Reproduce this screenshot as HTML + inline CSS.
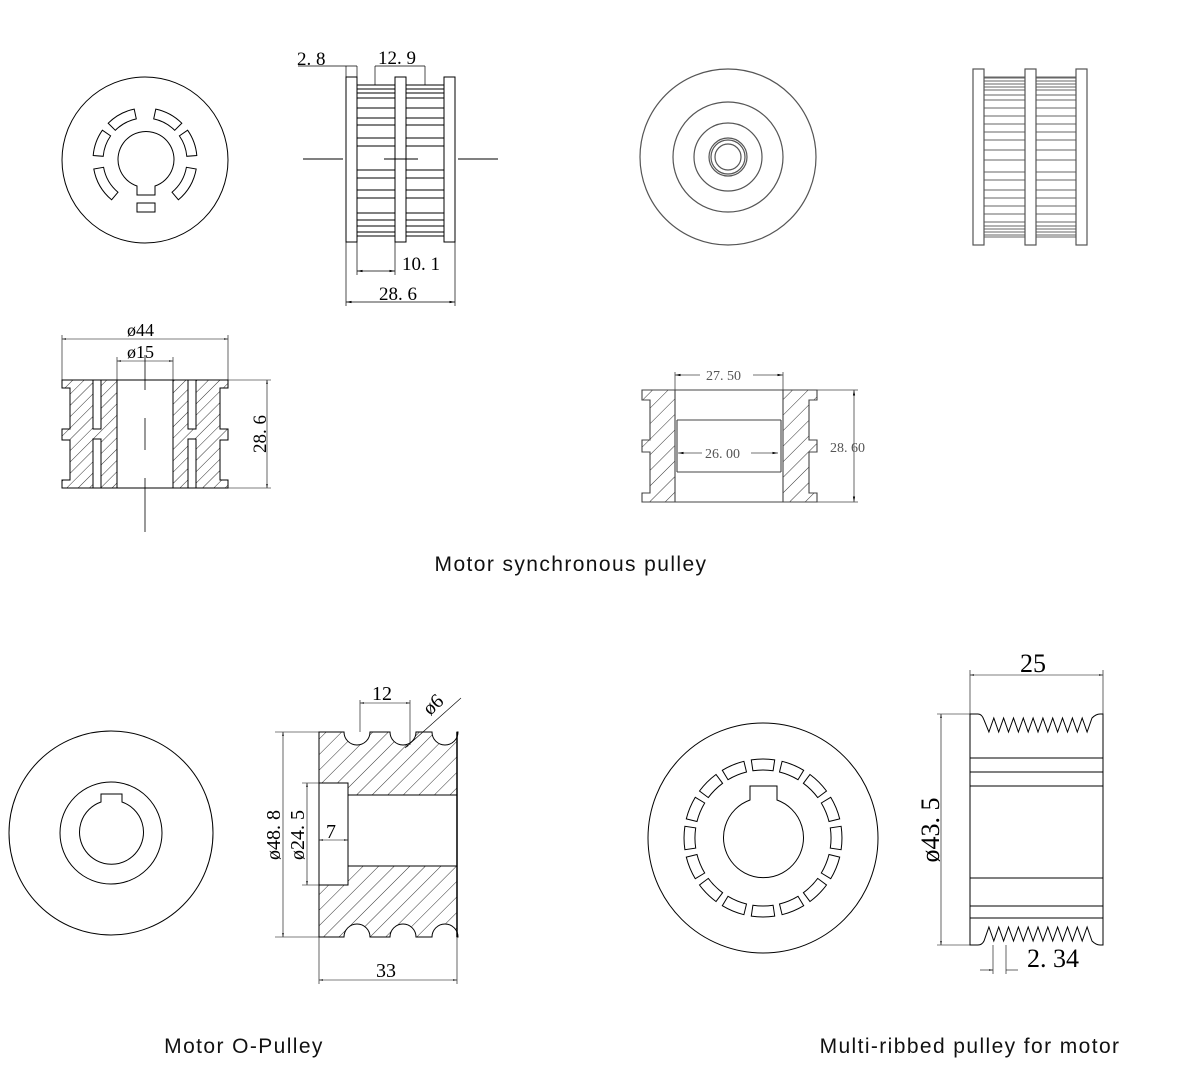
<!DOCTYPE html>
<html><head><meta charset="utf-8"><style>
html,body{margin:0;padding:0;background:#fff}
svg{display:block}
.d{font-family:"Liberation Serif","Noto Serif CJK SC",serif;fill:#000}
.t{font-family:"Liberation Sans","DejaVu Sans",sans-serif;font-size:21px;letter-spacing:1.4px;fill:#111;text-anchor:middle}
</style></head><body>
<svg id="s" width="1180" height="1090" viewBox="0 0 1180 1090" xmlns="http://www.w3.org/2000/svg">
<defs>
<pattern id="h" patternUnits="userSpaceOnUse" width="8" height="8" patternTransform="rotate(45)">
<rect width="8" height="8" fill="#fff"/><line x1="0" y1="0" x2="0" y2="8" stroke="#333" stroke-width="1"/>
</pattern>
<pattern id="h2" patternUnits="userSpaceOnUse" width="11" height="11" patternTransform="rotate(45)">
<rect width="11" height="11" fill="#fff"/><line x1="0" y1="0" x2="0" y2="11" stroke="#333" stroke-width="1"/>
</pattern>
<marker id="a" viewBox="0 0 10 10" refX="10" refY="5" markerWidth="7" markerHeight="7" orient="auto-start-reverse"><path d="M0,3 L10,5 L0,7z" fill="#000"/></marker>
</defs>
<g fill="none" stroke="#000" stroke-width="1">
<circle cx="145" cy="160" r="83"/>
<path d="M137,186 A28,28 0 1 1 155,186 L155,195 L137,195 Z"/>
<rect x="137" y="203" width="18" height="9"/>
<g id="slots1"></g>

<g id="tooth1"></g>
<rect x="346" y="77" width="11" height="165" fill="#fff"/>
<rect x="395" y="77" width="11" height="165" fill="#fff"/>
<rect x="444" y="77" width="11" height="165" fill="#fff"/>
<line x1="303" y1="159" x2="343" y2="159"/><line x1="384" y1="159" x2="418" y2="159"/><line x1="458" y1="159" x2="498" y2="159"/>
<line x1="298" y1="66" x2="357" y2="66" stroke-width="0.8"/>
<line x1="346" y1="66" x2="346" y2="77" stroke-width="0.7"/><line x1="357" y1="66" x2="357" y2="77" stroke-width="0.7"/>
<line x1="375" y1="66" x2="425" y2="66" stroke-width="0.8"/>
<line x1="375" y1="66" x2="375" y2="85" stroke-width="0.7"/><line x1="425" y1="66" x2="425" y2="85" stroke-width="0.7"/>
<line x1="346" y1="242" x2="346" y2="306" stroke-width="0.7"/><line x1="455" y1="242" x2="455" y2="306" stroke-width="0.7"/>
<line x1="357" y1="242" x2="357" y2="275" stroke-width="0.7"/><line x1="395" y1="242" x2="395" y2="275" stroke-width="0.7"/>
<line x1="357" y1="271" x2="395" y2="271" marker-start="url(#a)" marker-end="url(#a)" stroke-width="0.8"/>
<line x1="346" y1="302" x2="455" y2="302" marker-start="url(#a)" marker-end="url(#a)" stroke-width="0.8"/>

<path d="M62,380 L117,380 L117,488 L62,488 L62,480 L70,480 L70,440 L62,440 L62,429 L70,429 L70,388 L62,388 Z" fill="url(#h)"/>
<path d="M228,380 L173,380 L173,488 L228,488 L228,480 L220,480 L220,440 L228,440 L228,429 L220,429 L220,388 L228,388 Z" fill="url(#h)"/>
<line x1="117" y1="380" x2="173" y2="380"/><line x1="117" y1="488" x2="173" y2="488"/>
<rect x="93" y="380" width="8" height="49" fill="#fff"/><rect x="93" y="439" width="8" height="49" fill="#fff"/>
<rect x="188" y="380" width="8" height="49" fill="#fff"/><rect x="188" y="439" width="8" height="49" fill="#fff"/>
<line x1="145" y1="355" x2="145" y2="390" stroke-width="0.8"/><line x1="145" y1="418" x2="145" y2="450" stroke-width="0.8"/><line x1="145" y1="478" x2="145" y2="532" stroke-width="0.8"/>
<line x1="62" y1="380" x2="62" y2="335" stroke-width="0.6"/><line x1="228" y1="380" x2="228" y2="335" stroke-width="0.6"/>
<line x1="62" y1="339" x2="228" y2="339" marker-start="url(#a)" marker-end="url(#a)" stroke-width="0.6"/>
<line x1="117" y1="380" x2="117" y2="357" stroke-width="0.6"/><line x1="173" y1="380" x2="173" y2="357" stroke-width="0.6"/>
<line x1="117" y1="361" x2="173" y2="361" marker-start="url(#a)" marker-end="url(#a)" stroke-width="0.6"/>
<line x1="228" y1="380" x2="271" y2="380" stroke-width="0.6"/><line x1="228" y1="488" x2="271" y2="488" stroke-width="0.6"/>
<line x1="267" y1="380" x2="267" y2="488" marker-start="url(#a)" marker-end="url(#a)" stroke-width="0.6"/>

<g stroke="#555" stroke-width="1.2">
<circle cx="728" cy="157" r="88"/><circle cx="728" cy="157" r="55"/><circle cx="728" cy="157" r="34"/>
<circle cx="728" cy="157" r="19"/><circle cx="728" cy="157" r="17"/><circle cx="728" cy="157" r="13"/>
</g>
<g id="tooth2" stroke="#666"></g>
<g stroke="#555" stroke-width="1.2">
<rect x="973" y="69" width="11" height="176" fill="#fff"/>
<rect x="1025" y="69" width="11" height="176" fill="#fff"/>
<rect x="1076" y="69" width="11" height="176" fill="#fff"/>
</g>
<g stroke="#444" stroke-width="1.1">
<path d="M642,390 L675,390 L675,502 L642,502 L642,493 L650,493 L650,452 L642,452 L642,440 L650,440 L650,400 L642,400 Z" fill="url(#h2)"/>
<path d="M817,390 L783,390 L783,502 L817,502 L817,493 L809,493 L809,452 L817,452 L817,440 L809,440 L809,400 L817,400 Z" fill="url(#h2)"/>
<line x1="675" y1="390" x2="783" y2="390"/><line x1="675" y1="502" x2="783" y2="502"/>
<line x1="677" y1="420" x2="781" y2="420"/><line x1="677" y1="472" x2="781" y2="472"/>
<line x1="677" y1="420" x2="677" y2="472"/><line x1="781" y1="420" x2="781" y2="472"/>
<line x1="675" y1="372" x2="675" y2="390" stroke-width="0.8"/><line x1="783" y1="372" x2="783" y2="390" stroke-width="0.8"/>
<line x1="675" y1="375" x2="700" y2="375" marker-start="url(#a)" stroke-width="0.8"/><line x1="753" y1="375" x2="783" y2="375" marker-end="url(#a)" stroke-width="0.8"/>
<line x1="678" y1="453" x2="702" y2="453" marker-start="url(#a)" stroke-width="0.8"/><line x1="751" y1="453" x2="778" y2="453" marker-end="url(#a)" stroke-width="0.8"/>
<line x1="817" y1="390" x2="858" y2="390" stroke-width="0.8"/><line x1="817" y1="502" x2="858" y2="502" stroke-width="0.8"/>
<line x1="854" y1="390" x2="854" y2="502" marker-start="url(#a)" marker-end="url(#a)" stroke-width="0.8"/>
</g>

<circle cx="111" cy="833" r="102"/><circle cx="111" cy="833" r="51"/>
<path d="M101,802 A32,32 0 1 0 122,802 L122,794 L101,794 Z"/>
<path d="M319,732 L344,732 A13,13 0 0 0 370,732 L390,732 A13,13 0 0 0 416,732 L432,732 A13,13 0 0 0 458,732 L457,732 L457,795 L348,795 L348,783 L319,783 Z" fill="url(#h2)"/>
<path d="M319,937 L344,937 A13,13 0 0 1 370,937 L390,937 A13,13 0 0 1 416,937 L432,937 A13,13 0 0 1 458,937 L457,937 L457,866 L348,866 L348,885 L319,885 Z" fill="url(#h2)"/>
<line x1="457" y1="732" x2="457" y2="937" stroke-width="1.5"/>
<rect x="319" y="783" width="29" height="102" fill="#fff"/>
<line x1="348" y1="795" x2="457" y2="795"/><line x1="348" y1="866" x2="457" y2="866"/>
<line x1="360" y1="700" x2="360" y2="732" stroke-width="0.6"/><line x1="410" y1="700" x2="410" y2="745" stroke-width="0.6"/>
<line x1="360" y1="703" x2="410" y2="703" marker-start="url(#a)" marker-end="url(#a)" stroke-width="0.6"/>
<line x1="405" y1="748" x2="461" y2="698" stroke-width="0.6" marker-start="url(#a)"/>
<line x1="275" y1="732" x2="319" y2="732" stroke-width="0.6"/><line x1="275" y1="937" x2="319" y2="937" stroke-width="0.6"/>
<line x1="283" y1="732" x2="283" y2="937" marker-start="url(#a)" marker-end="url(#a)" stroke-width="0.6"/>
<line x1="302" y1="783" x2="319" y2="783" stroke-width="0.6"/><line x1="302" y1="885" x2="319" y2="885" stroke-width="0.6"/>
<line x1="307" y1="783" x2="307" y2="885" marker-start="url(#a)" marker-end="url(#a)" stroke-width="0.6"/>
<line x1="319" y1="840" x2="348" y2="840" marker-start="url(#a)" marker-end="url(#a)" stroke-width="0.6"/>
<line x1="319" y1="937" x2="319" y2="984" stroke-width="0.6"/><line x1="457" y1="937" x2="457" y2="984" stroke-width="0.6"/>
<line x1="319" y1="980" x2="457" y2="980" marker-start="url(#a)" marker-end="url(#a)" stroke-width="0.6"/>

<circle cx="763" cy="838" r="115"/>
<path d="M750,800 A40,40 0 1 0 777,800 L777,786 L750,786 Z"/>
<g id="slots2"></g>
<path id="rib" d=""/>
<line x1="970" y1="758" x2="1103" y2="758"/><line x1="970" y1="772" x2="1103" y2="772"/><line x1="970" y1="786" x2="1103" y2="786"/>
<line x1="970" y1="878" x2="1103" y2="878"/><line x1="970" y1="906" x2="1103" y2="906"/><line x1="970" y1="918" x2="1103" y2="918"/>
<line x1="970" y1="786" x2="970" y2="878" stroke-dasharray="3,2"/><line x1="1103" y1="786" x2="1103" y2="878" stroke-dasharray="3,2"/>
<line x1="970" y1="714" x2="970" y2="670" stroke-width="0.6"/><line x1="1103" y1="714" x2="1103" y2="670" stroke-width="0.6"/>
<line x1="970" y1="675" x2="1103" y2="675" marker-start="url(#a)" marker-end="url(#a)" stroke-width="0.6"/>
<line x1="937" y1="714" x2="970" y2="714" stroke-width="0.6"/><line x1="937" y1="945" x2="970" y2="945" stroke-width="0.6"/>
<line x1="941" y1="714" x2="941" y2="945" marker-start="url(#a)" marker-end="url(#a)" stroke-width="0.6"/>
<line x1="993" y1="945" x2="993" y2="974" stroke-width="0.6"/><line x1="1006" y1="945" x2="1006" y2="974" stroke-width="0.6"/>
<line x1="980" y1="970" x2="993" y2="970" marker-end="url(#a)" stroke-width="0.6"/><line x1="1006" y1="970" x2="1018" y2="970" stroke-width="0.6"/>
</g>
<g class="d">
<text x="297" y="65" font-size="19">2. 8</text>
<text x="378" y="64" font-size="19">12. 9</text>
<text x="402" y="270" font-size="19">10. 1</text>
<text x="379" y="300" font-size="19">28. 6</text>
<text x="127" y="336" font-size="18">ø44</text>
<text x="127" y="358" font-size="18">ø15</text>
<text transform="translate(266,434) rotate(-90)" font-size="19" text-anchor="middle">28. 6</text>
<text x="706" y="380" font-size="14" fill="#555">27. 50</text>
<text x="705" y="458" font-size="14" fill="#555">26. 00</text>
<text x="830" y="452" font-size="14" fill="#555">28. 60</text>
<text x="372" y="700" font-size="20">12</text>
<text transform="translate(430,716) rotate(-42)" font-size="20">ø6</text>
<text transform="translate(280,835) rotate(-90)" font-size="20" text-anchor="middle">ø48. 8</text>
<text transform="translate(304,835) rotate(-90)" font-size="20" text-anchor="middle">ø24. 5</text>
<text x="326" y="838" font-size="20">7</text>
<text x="376" y="977" font-size="20">33</text>
<text x="1020" y="672" font-size="26">25</text>
<text transform="translate(939,830) rotate(-90)" font-size="26" text-anchor="middle">ø43. 5</text>
<text x="1027" y="967" font-size="26">2. 34</text>
</g>
<text class="t" x="571" y="571">Motor synchronous pulley</text>
<text class="t" x="244" y="1053">Motor O-Pulley</text>
<text class="t" x="970" y="1053">Multi-ribbed pulley for motor</text>
</svg>
<script>
function slot(cx,cy,r1,r2,a1,a2){var R=Math.PI/180;function p(r,a){return (cx+r*Math.sin(a*R)).toFixed(1)+","+(cy-r*Math.cos(a*R)).toFixed(1)}
return '<path d="M'+p(r2,a1)+' A'+r2+','+r2+' 0 0 1 '+p(r2,a2)+' L'+p(r1,a2)+' A'+r1+','+r1+' 0 0 0 '+p(r1,a1)+' Z"/>';}
var s='',segs=[[-45,-12],[12,45],[55,85],[100,140],[-85,-55],[-140,-100]];
segs.forEach(function(g){s+=slot(145,160,42,52,g[0],g[1])});
document.getElementById('slots1').innerHTML=s;
s='';for(var i=0;i<16;i++){var c=i*22.5;s+=slot(763,838,68,79,c-8.5,c+8.5)}
document.getElementById('slots2').innerHTML=s;
function teeth(x1,x2,y1,y2,ys){var t='';ys.forEach(function(y){t+='<line x1="'+x1+'" y1="'+y+'" x2="'+x2+'" y2="'+y+'"/>'});
t+='<line x1="'+x1+'" y1="'+y1+'" x2="'+x2+'" y2="'+y1+'"/><line x1="'+x1+'" y1="'+y2+'" x2="'+x2+'" y2="'+y2+'"/>';return t;}
var ys1=[89,93,98,108,118,125,138,146,170,178,190,198,213,220,226,232];
document.getElementById('tooth1').innerHTML=teeth(357,444,85,236,ys1);
var ys2=[78,81,84,87,90,95,100,108,116,124,132,140,150,160,172,180,190,198,206,214,222,226,229,232,235];
document.getElementById('tooth2').innerHTML=teeth(984,1076,77,237,ys2);
var d='M970,945 L970,714 L978,714 Q982,714 984,720';var n=11,x0=984,x1=1092,w=(x1-x0)/n;
for(var i=0;i<n;i++){d+=' L'+(x0+i*w+w/2).toFixed(1)+',732 L'+(x0+(i+1)*w).toFixed(1)+',718';}
d+=' Q1096,714 1100,714 L1103,714 L1103,945 L1100,945 Q1096,945 1092,941';
for(var i=n-1;i>=0;i--){d+=' L'+(x0+i*w+w/2).toFixed(1)+',927 L'+(x0+i*w).toFixed(1)+',941';}
d+=' Q982,945 978,945 Z';
document.getElementById('rib').setAttribute('d',d);
</script>
</body></html>
